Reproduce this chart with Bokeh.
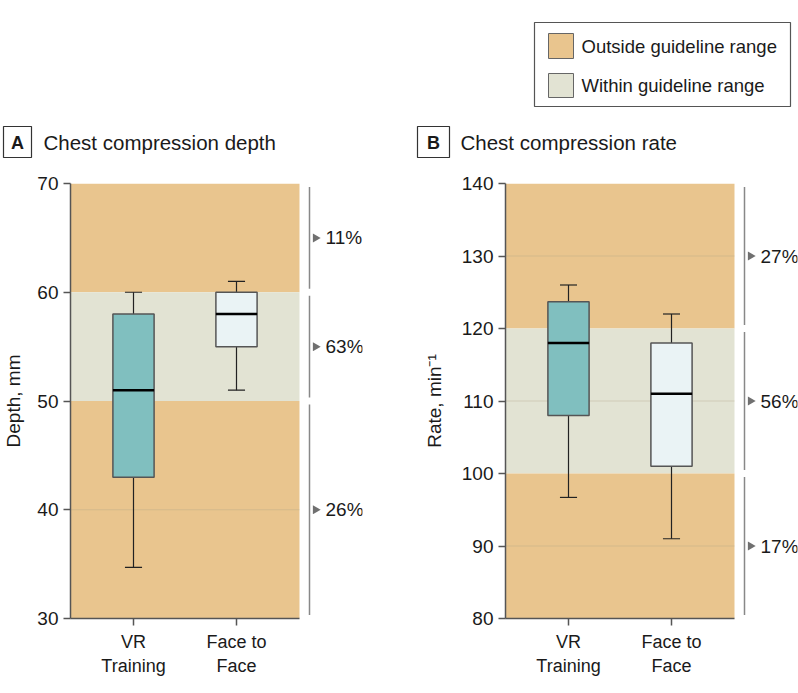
import math
from bokeh.plotting import figure
from bokeh.layouts import column, row
from bokeh.models import Range1d, FixedTicker
from bokeh.core.properties import value
from bokeh.embed import file_html
from bokeh.resources import INLINE

# ---------------- data ----------------
positions = [1, 2]
categories = ["VR\nTraining", "Face to\nFace"]

depth_low = [34.7, 51]
depth_q1 = [43, 55]
depth_med = [51, 58]
depth_q3 = [58, 60]
depth_high = [60, 61]
depth_guideline = [50, 60]
depth_limits = [30, 70]
depth_ticks = [30, 40, 50, 60, 70]
depth_pct = ["11%", "63%", "26%"]   # above, within, below guideline

rate_low = [96.7, 91]
rate_q1 = [108, 101]
rate_med = [118, 111]
rate_q3 = [123.7, 118]
rate_high = [126, 122]
rate_guideline = [100, 120]
rate_limits = [80, 140]
rate_ticks = [80, 90, 100, 110, 120, 130, 140]
rate_pct = ["27%", "56%", "17%"]

legend_labels = ["Outside guideline range", "Within guideline range"]
panel_letters = ["A", "B"]
panel_titles = ["Chest compression depth", "Chest compression rate"]
y_labels = ["Depth, mm", "Rate, min\u207b\u00b9"]

# ---------------- style ----------------
FONT = "Liberation Sans"
ORANGE = "#E9C58E"
GREEN = "#E2E3D3"
TEAL = "#80BFBF"
LIGHT = "#EAF3F5"
AXIS = "#555555"
TXT = "#1a1a1a"

PX = 103.0                 # pixels per category unit
FRAME_W = 292
FRAME_H = 435
X0 = 1 - 63 / PX           # band left
XB1 = 2 + 63 / PX          # band right
X_END = X0 + FRAME_W / PX
BRACKET_X = 1 + 176 / PX
TRI_X = 1 + 182 / PX
LBL_X = 1 + 192 / PX
BOX_HW = 0.2
CAP_HW = 0.083
HEADER_H = 168


def panel(low, q1, med, q3, high, guide, lim, ticks, pct, ylabel, mb_left, mb_right, standoff):
    p = figure(frame_width=FRAME_W, frame_height=FRAME_H,
               x_range=Range1d(X0, X_END), y_range=Range1d(lim[0], lim[1]),
               output_backend="svg", toolbar_location=None,
               min_border_left=mb_left, min_border_right=mb_right,
               min_border_top=15, min_border_bottom=70)
    p.outline_line_color = None
    p.grid.visible = False
    p.background_fill_color = "white"
    p.border_fill_color = "white"

    # guideline bands
    bottoms = [guide[1], guide[0], lim[0]]
    tops = [lim[1], guide[1], guide[0]]
    p.quad(left=X0, right=XB1, bottom=bottoms, top=tops,
           fill_color=[ORANGE, GREEN, ORANGE], line_color=None)

    # faint gridlines
    inner = [t for t in ticks if lim[0] < t < lim[1] and t not in guide]
    p.segment(x0=X0, x1=XB1, y0=inner, y1=inner,
              line_color="#b0a088", line_alpha=0.35, line_width=1)

    # whiskers
    p.segment(x0=positions, x1=positions, y0=q3, y1=high, line_color="#222222", line_width=1.2)
    p.segment(x0=positions, x1=positions, y0=q1, y1=low, line_color="#222222", line_width=1.2)
    cl = [x - CAP_HW for x in positions]
    cr = [x + CAP_HW for x in positions]
    p.segment(x0=cl, x1=cr, y0=high, y1=high, line_color="#222222", line_width=1.2)
    p.segment(x0=cl, x1=cr, y0=low, y1=low, line_color="#222222", line_width=1.2)

    # boxes
    p.quad(left=[x - BOX_HW for x in positions], right=[x + BOX_HW for x in positions],
           bottom=q1, top=q3, fill_color=[TEAL, LIGHT], line_color=AXIS, line_width=1.5)
    p.segment(x0=[x - BOX_HW for x in positions], x1=[x + BOX_HW for x in positions],
              y0=med, y1=med, line_color="black", line_width=2.5)

    # side brackets with percentages
    inset = 3.5 * (lim[1] - lim[0]) / FRAME_H
    p.segment(x0=BRACKET_X, x1=BRACKET_X,
              y0=[b + inset for b in bottoms], y1=[t - inset for t in tops],
              line_color="#888888", line_width=1.5)
    mids = [(b + t) / 2 for b, t in zip(bottoms, tops)]
    p.scatter(x=TRI_X, y=mids, marker="triangle", size=9, angle=-math.pi / 2,
              fill_color="#707070", line_color=None)
    p.text(x=LBL_X, y=mids, text=pct, text_baseline="middle", text_align="left",
           text_font=value(FONT), text_font_size="19px", text_color=TXT)

    # axes
    p.yaxis.ticker = FixedTicker(ticks=ticks)
    p.xaxis.ticker = FixedTicker(ticks=positions)
    p.xaxis.major_label_overrides = {pos: lab for pos, lab in zip(positions, categories)}
    p.xaxis.bounds = (X0, XB1)
    p.yaxis.axis_label = ylabel
    p.yaxis.axis_label_text_font_style = "normal"
    p.yaxis.axis_label_text_font = FONT
    p.yaxis.axis_label_text_font_size = "19px"
    p.yaxis.axis_label_text_color = TXT
    p.yaxis.axis_label_standoff = standoff
    for ax in (p.xaxis, p.yaxis):
        ax.axis_line_color = AXIS
        ax.axis_line_width = 1.5
        ax.major_tick_line_color = AXIS
        ax.major_tick_line_width = 1.5
        ax.major_tick_in = 0
        ax.major_tick_out = 7
        ax.minor_tick_line_color = None
        ax.major_label_text_font = FONT
        ax.major_label_text_font_size = "19px"
        ax.major_label_text_color = TXT
    p.xaxis.major_label_text_font_size = "18px"
    p.xaxis.major_label_standoff = 6
    return p


pA = panel(depth_low, depth_q1, depth_med, depth_q3, depth_high, depth_guideline,
           depth_limits, depth_ticks, depth_pct, y_labels[0], 70, 58, 10)
pB = panel(rate_low, rate_q1, rate_med, rate_q3, rate_high, rate_guideline,
           rate_limits, rate_ticks, rate_pct, y_labels[1], 78, 8, 14)

# ---------------- header: legend and panel titles ----------------
top = figure(width=798, height=HEADER_H, x_range=Range1d(0, 798), y_range=Range1d(HEADER_H, 0),
             x_axis_type=None, y_axis_type=None, output_backend="svg",
             toolbar_location=None, min_border=0)
top.outline_line_color = None
top.grid.visible = False

# legend box
top.quad(left=534, right=790, top=22, bottom=106, fill_color=None,
         line_color=AXIS, line_width=1.2)
top.quad(left=548, right=573, top=[33, 73], bottom=[58, 97],
         fill_color=[ORANGE, GREEN], line_color="#666666", line_width=1)
top.text(x=581, y=[46, 85], text=legend_labels, text_baseline="middle",
         text_font=value(FONT), text_font_size="18.5px", text_color=TXT)

# panel title boxes
top.quad(left=[3, 417], right=[31, 449], top=126, bottom=157, fill_color="white",
         line_color="#333333", line_width=1.2)
top.text(x=[17, 433], y=142, text=panel_letters, text_align="center", text_baseline="middle",
         text_font=value(FONT), text_font_size="18px", text_font_style="bold", text_color=TXT)
top.text(x=[43, 460], y=142, text=panel_titles, text_baseline="middle",
         text_font=value(FONT), text_font_size="20.5px", text_color=TXT)

layout = column(top, row(pA, pB))
open("out.html", "w").write(file_html(layout, INLINE))
